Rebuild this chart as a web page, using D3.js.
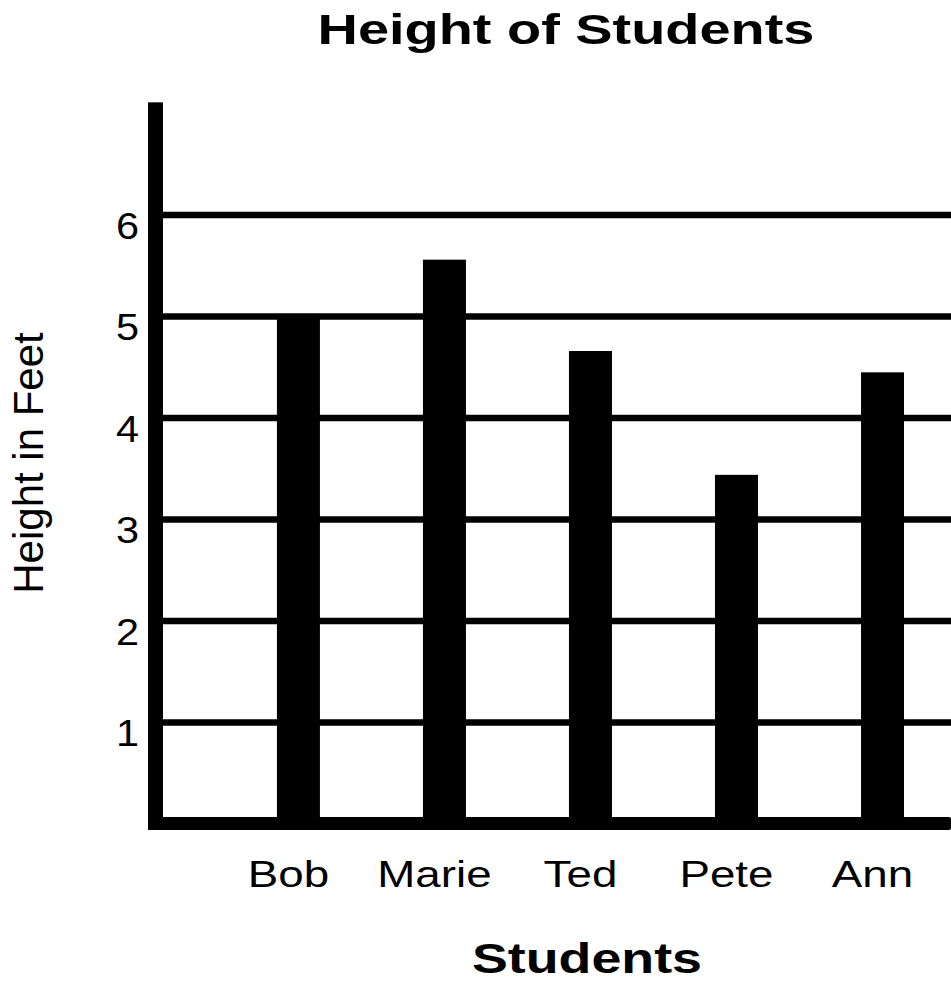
<!DOCTYPE html>
<html>
<head>
<meta charset="utf-8">
<script src="https://cdn.jsdelivr.net/npm/d3@7"></script>
<style>
  body { margin: 0; background: #fff; }
  text { font-family: "Liberation Sans", Arial, Helvetica, sans-serif; fill: #000; }
</style>
</head>
<body>
<script>
var students = ["Bob", "Marie", "Ted", "Pete", "Ann"];
var heights = [5.0, 5.56, 4.66, 3.44, 4.45];
var yTicks = [1, 2, 3, 4, 5, 6];

var W = 951, H = 986;

var svg = d3.select("body").append("svg")
  .attr("width", W)
  .attr("height", H)

// the reference type is a wide Helvetica, so stretch glyphs horizontally
function widen(sel, k) {
  sel.each(function() {
    var len = this.getComputedTextLength();
    d3.select(this)
      .attr("textLength", len * k)
      .attr("lengthAdjust", "spacingAndGlyphs")
  })
}

// scales
var x = d3.scaleBand()
  .domain(students)
  .range([163, 951])
  .paddingInner(0.7055)
  .paddingOuter(0.551)
  .align(0.708)

var y = d3.scaleLinear()
  .domain([0, 6])
  .range([824, 215])

var yTop = 7.11

// gridlines behind bars
svg.append("g").selectAll("line")
  .data(yTicks)
  .enter().append("line")
  .attr("x1", 163)
  .attr("x2", W)
  .attr("y1", function(d) { return y(d) })
  .attr("y2", function(d) { return y(d) })
  .attr("stroke", "#000")
  .attr("stroke-width", 6.5)

// bars
svg.append("g").selectAll("rect")
  .data(heights)
  .enter().append("rect")
  .attr("x", function(d, i) { return x(students[i]) })
  .attr("width", x.bandwidth())
  .attr("y", function(d) { return y(d) })
  .attr("height", function(d) { return y(0) - y(d) })
  .attr("fill", "#000")

// axes as thick strokes
svg.append("rect")
  .attr("x", 148)
  .attr("y", y(yTop))
  .attr("width", 15)
  .attr("height", 830 - y(yTop))
  .attr("fill", "#000")

svg.append("rect")
  .attr("x", 148)
  .attr("y", 817)
  .attr("width", W - 148)
  .attr("height", 13)
  .attr("rx", 2)
  .attr("fill", "#000")

// tick labels
svg.append("g").selectAll("text")
  .data(yTicks)
  .enter().append("text")
  .attr("x", 139)
  .attr("y", function(d) { return y(d) + 11 })
  .attr("dy", "0.36em")
  .attr("text-anchor", "end")
  .style("font-size", "36px")
  .text(function(d) { return d })
  .call(widen, 1.15)

// category labels
svg.append("g").selectAll("text")
  .data(students)
  .enter().append("text")
  .attr("x", function(d) { return x(d) + x.bandwidth() / 2 - 10 })
  .attr("y", 887)
  .attr("text-anchor", "middle")
  .style("font-size", "36px")
  .text(function(d) { return d })
  .call(widen, 1.27)

// titles
svg.append("text")
  .attr("x", 566)
  .attr("y", 44)
  .attr("text-anchor", "middle")
  .style("font-size", "43px")
  .style("font-weight", "bold")
  .text("Height of Students")
  .call(widen, 1.3)

svg.append("text")
  .attr("x", 587)
  .attr("y", 973)
  .attr("text-anchor", "middle")
  .style("font-size", "42px")
  .style("font-weight", "bold")
  .text("Students")
  .call(widen, 1.28)

svg.append("text")
  .attr("transform", "translate(43,463) rotate(-90)")
  .attr("text-anchor", "middle")
  .style("font-size", "42px")
  .text("Height in Feet")
</script>
</body>
</html>
